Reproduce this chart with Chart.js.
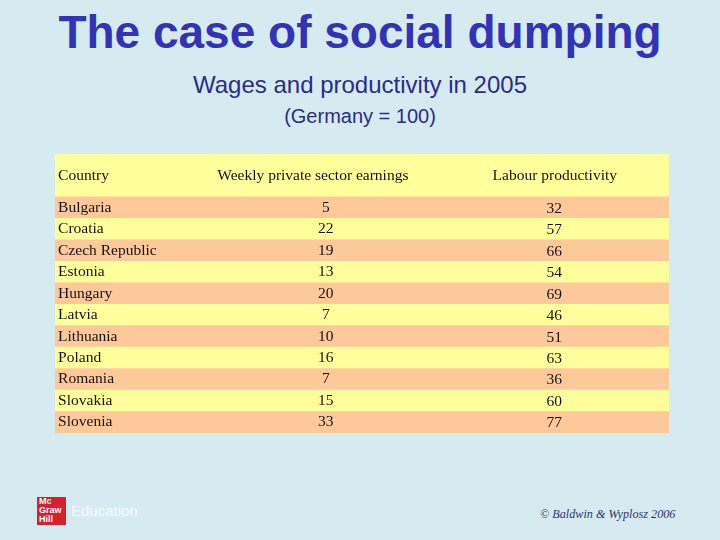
<!DOCTYPE html>
<html>
<head>
<meta charset="utf-8">
<script src="https://cdn.jsdelivr.net/npm/chart.js@4/dist/chart.umd.min.js"></script>
<style>
  html, body { margin:0; padding:0; }
  body { width:720px; height:540px; background:#d5ebef; position:relative; overflow:hidden; font-family:'Liberation Sans', Arial, sans-serif; }
  .title    { position:absolute; left:0; width:720px; top:5px; line-height:54px; text-align:center; font-weight:bold; font-size:46px; color:#3333b8; }
  .subtitle { position:absolute; left:0; width:720px; top:70px; line-height:30px; text-align:center; font-size:24px; color:#2b2b8c; }
  .note     { position:absolute; left:0; width:720px; top:104px; line-height:24px; text-align:center; font-size:20px; color:#2b2b8c; }
  #wrap     { position:absolute; left:55px; top:154px; width:614px; height:279px; }
  .logo     { position:absolute; left:37px; top:497px; width:29px; height:28px; background:#d8202c; color:#fff;
              font-size:9px; font-weight:bold; line-height:9px; padding-left:2px; box-sizing:border-box; }
  .edu      { position:absolute; left:71px; top:502px; font-size:15px; color:#f4fafc; }
  .copy     { position:absolute; left:540px; top:507px; font-family:'Liberation Serif', serif; font-style:italic; font-size:12.2px; color:#2a3570; }
</style>
</head>
<body>
<div class="title">The case of social dumping</div>
<div class="subtitle">Wages and productivity in 2005</div>
<div class="note">(Germany = 100)</div>
<div id="wrap"><canvas id="tableChart"></canvas></div>
<div class="logo">Mc<br>Graw<br>Hill</div>
<div class="edu">Education</div>
<div class="copy">© Baldwin &amp; Wyplosz 2006</div>

<script>
// ---- Data ----
const headers      = ['Country', 'Weekly private sector earnings', 'Labour productivity'];
const countries    = ['Bulgaria', 'Croatia', 'Czech Republic', 'Estonia', 'Hungary', 'Latvia',
                      'Lithuania', 'Poland', 'Romania', 'Slovakia', 'Slovenia'];
const earnings     = [5, 22, 19, 13, 20, 7, 10, 16, 7, 15, 33];
const productivity = [32, 57, 66, 54, 69, 46, 51, 63, 36, 60, 77];

const YELLOW = '#ffff9c';
const ORANGE = '#fdc99b';

// header takes two category slots, then one slot per country
const rowLabels = ['_h1', '_h2', ...countries];
const rowColors = rowLabels.map((l, i) => i < 2 ? YELLOW : ((i - 2) % 2 === 0 ? ORANGE : YELLOW));

// ---- Cell text plugin ----
const cellText = {
  id: 'cellText',
  afterDatasetsDraw(chart) {
    const { ctx, scales: { x, y } } = chart;
    ctx.save();
    ctx.fillStyle = '#141414';
    ctx.font = '15.5px "Liberation Serif", "Times New Roman", serif';
    ctx.textBaseline = 'middle';

    // header row
    const hy = (y.getPixelForValue(0) + y.getPixelForValue(1)) / 2;
    ctx.textAlign = 'left';   ctx.fillText(headers[0], x.getPixelForValue(0.5), hy);
    ctx.textAlign = 'center'; ctx.fillText(headers[1], x.getPixelForValue(42), hy);
    ctx.fillText(headers[2], x.getPixelForValue(81.4), hy);

    // body rows
    countries.forEach((c, i) => {
      const py = y.getPixelForValue(i + 2);
      ctx.textAlign = 'left';   ctx.fillText(c, x.getPixelForValue(0.5), py);
      ctx.textAlign = 'center'; ctx.fillText(String(earnings[i]), x.getPixelForValue(44.1), py);
      ctx.fillText(String(productivity[i]), x.getPixelForValue(81.3), py + 1);
    });
    ctx.restore();
  }
};

new Chart(document.getElementById('tableChart'), {
  type: 'bar',
  data: {
    labels: rowLabels,
    datasets: [{
      data: rowLabels.map(() => [0, 100]),
      backgroundColor: rowColors,
      borderWidth: 0,
      barPercentage: 1,
      categoryPercentage: 1,
    }],
  },
  options: {
    indexAxis: 'y',
    responsive: true,
    maintainAspectRatio: false,
    animation: false,
    devicePixelRatio: 1,
    layout: { padding: 0 },
    plugins: { legend: { display:false }, tooltip: { enabled:false } },
    scales: {
      x: { type:'linear', min:0, max:100, display:false },
      y: { type:'category', display:false },
    },
  },
  plugins: [cellText],
});
</script>
</body>
</html>
